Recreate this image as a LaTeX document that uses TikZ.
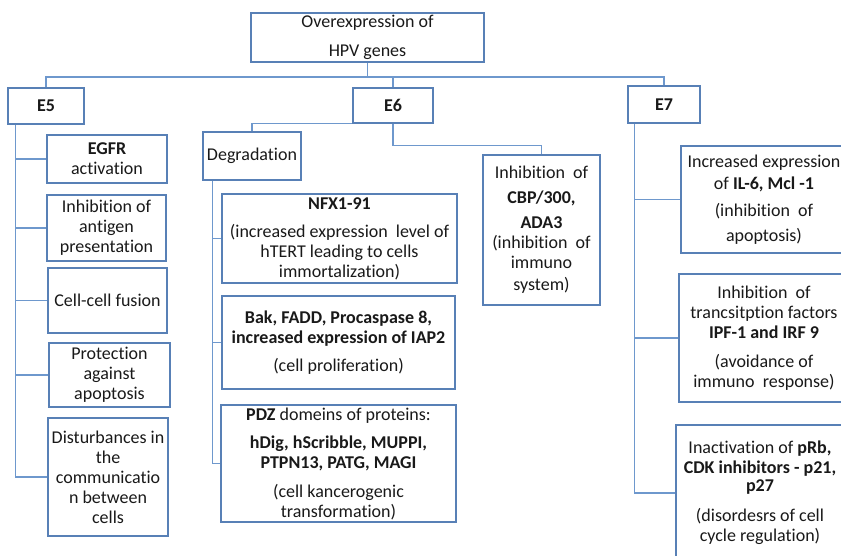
\documentclass[tikz,border=0pt]{standalone}
\usepackage{fontspec}
\setmainfont{Carlito}[RawFeature={-liga;-clig;-rlig;-calt;-dlig}]
\usetikzlibrary{calc}
\definecolor{boxc}{RGB}{88,128,182}
\definecolor{linec}{RGB}{110,152,205}
\definecolor{txt}{RGB}{25,25,25}
\begin{document}
\begin{tikzpicture}[x=1bp,y=-1bp,
  box/.style={draw=boxc, line width=1.1bp, inner sep=0pt, align=center,
    font=\fontsize{18bp}{20bp}\selectfont, text=txt, fill=white},
  conn/.style={draw=linec, line width=1.3bp}]
\useasboundingbox (0,0) rectangle (841,556);
\clip (0,0) rectangle (841,556);
\fill[white] (0,0) rectangle (841,556);

% root and main genes
\node[box, minimum width=233bp, minimum height=49bp] (root) at (367.5,37.5) {Overexpression of\\[9bp]HPV genes};
\node[box, minimum width=76bp, minimum height=36bp] (E5) at (46,106) {\textbf{E5}};
\node[box, minimum width=80bp, minimum height=35bp] (E6) at (393,105.5) {\textbf{E6}};
\node[box, minimum width=72bp, minimum height=37bp] (E7) at (664,104.5) {\textbf{E7}};

% E5 children
\node[box, minimum width=120bp, minimum height=48bp] (egfr) at (107,159) {\textbf{EGFR}\\activation};
\node[box, minimum width=119bp, minimum height=66bp] (antigen) at (106.5,228) {Inhibition of\\antigen\\presentation};
\node[box, minimum width=119bp, minimum height=65bp] (fusion) at (107.5,300.5) {Cell-cell fusion};
\node[box, minimum width=121bp, minimum height=64bp] (protect) at (109.5,375) {Protection\\against\\apoptosis};
\node[box, minimum width=120bp, minimum height=118bp] (disturb) at (108,477) {Disturbances in\\the\\communicatio\\n between\\cells};

% E6 children
\node[box, minimum width=98bp, minimum height=48bp] (deg) at (252,156) {Degradation};
\node[box, minimum width=235bp, minimum height=89bp] (nfx) at (339.5,238.5) {\textbf{NFX1-91}\\[8bp](increased expression\ \ level of\\hTERT leading to cells\\immortalization)};
\node[box, minimum width=233bp, minimum height=93bp] (bak) at (338.5,342.5) {\textbf{Bak, FADD, Procaspase 8,}\\\textbf{increased expression of IAP2}\\[8bp](cell proliferation)};
\node[box, minimum width=235bp, minimum height=117bp] (pdz) at (338.5,463.5) {\textbf{PDZ} domeins of proteins:\\[8bp]\textbf{hDig, hScribble, MUPPI,}\\\textbf{PTPN13, PATG, MAGI}\\[9bp](cell kancerogenic\\transformation)};
\node[box, minimum width=117bp, minimum height=150bp] (cbp) at (541.5,230) {Inhibition\ \ of\\[5bp]\textbf{CBP/300,}\\[5bp]\textbf{ADA3}\\(inhibition\ \ of\\immuno\\[2bp]system)};

% E7 children
\node[box, minimum width=166bp, minimum height=107bp] (il6) at (764,199.5) {Increased expression\\[2bp]of \textbf{IL-6, Mcl -1}\\[7bp](inhibition\ \ of\\[5bp]apoptosis)};
\node[box, minimum width=170bp, minimum height=128bp] (ipf) at (764,338) {Inhibition\ \ of\\trancsitption factors\\\textbf{IPF-1 and IRF 9}\\[9bp](avoidance of\\immuno\ \ response)};
\node[box, minimum width=168bp, minimum height=136bp] (prb) at (760,493) {Inactivation of \textbf{pRb,}\\\textbf{CDK inhibitors - p21,}\\[-2bp]\textbf{p27}\\[10bp](disordesrs of cell\\cycle regulation)};

% connectors: top bus
\coordinate (busy) at (0,77);
\draw[conn] (E5.north) -- (E5.north |- busy) -- (E7.north |- busy) -- (E7.north);
\draw[conn] (root.south) -- (root.south |- busy);
\draw[conn] (E6.north) -- (E6.north |- busy);

% E5 trunk
\coordinate (e5t) at ($(E5.south west)+(8,0)$);
\foreach \n in {egfr,antigen,fusion,protect,disturb} \draw[conn] (e5t) |- (\n.west);

% E6 branches
\draw[conn] (E6.south west) -| (deg.north);
\draw[conn] (E6.south) -- ++(0,22) -| (cbp.north);
\coordinate (degt) at ($(deg.south west)+(10,0)$);
\foreach \n in {nfx,bak,pdz} \draw[conn] (degt) |- (\n.west);

% E7 trunk
\coordinate (e7t) at ($(E7.south west)+(7,0)$);
\foreach \n in {il6,ipf,prb} \draw[conn] (e7t) |- (\n.west);
\end{tikzpicture}
\end{document}
